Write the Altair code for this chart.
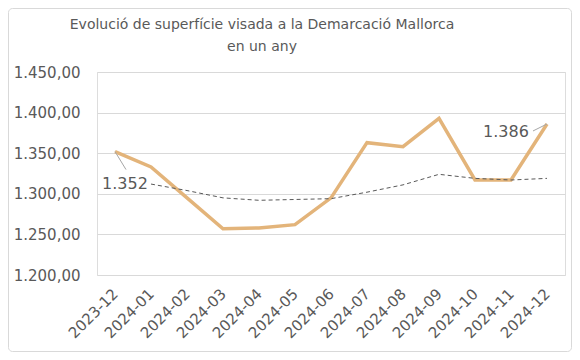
import altair as alt
import pandas as pd

months = ["2023-12", "2024-01", "2024-02", "2024-03", "2024-04", "2024-05", "2024-06",
          "2024-07", "2024-08", "2024-09", "2024-10", "2024-11", "2024-12"]
values = [1352, 1333, 1295, 1257, 1258, 1262, 1295, 1363, 1358, 1393, 1317, 1317, 1386]
trend_months = months[1:]
trend_values = [1312, 1304, 1295, 1292, 1293, 1294, 1302, 1311, 1324, 1319, 1317, 1319]
label_months = ["2023-12", "2024-12"]
label_values = [1352, 1386]
title_lines = ["Evolució de superfície visada a la Demarcació Mallorca", "en un any"]

TEXT = "#595959"
FONT = "DejaVu Sans"

df = pd.DataFrame({"mes": months, "valor": values})
dft = pd.DataFrame({"mes": trend_months, "valor": trend_values})
dfl = pd.DataFrame({"mes": label_months, "valor": label_values})

x = alt.X("mes:O", sort=months, scale=alt.Scale(type="point", padding=0.5, domain=months),
          axis=alt.Axis(title=None, labelAngle=-45, labelAlign="right", labelBaseline="middle",
                        labelPadding=16, ticks=False, domain=False, grid=False,
                        labelFontSize=15, labelColor=TEXT, labelFont=FONT))
y = alt.Y("valor:Q", scale=alt.Scale(domain=[1200, 1450], nice=False, zero=False),
          axis=alt.Axis(title=None, values=[1200, 1250, 1300, 1350, 1400, 1450], format=",.2f",
                        ticks=False, domain=False, gridColor="#d9d9d9", gridWidth=1,
                        labelPadding=17, labelFontSize=15, labelColor=TEXT, labelFont=FONT))

main = alt.Chart(df).mark_line(color="#E3B47A", strokeWidth=3.5, strokeJoin="miter").encode(x=x, y=y)
trend = alt.Chart(dft).mark_line(color="#595959", strokeWidth=1, strokeDash=[4, 3]).encode(
    x=alt.X("mes:O", sort=months), y="valor:Q")

lead1 = alt.Chart(dfl.iloc[[0]]).mark_rule(color="#a6a6a6", strokeWidth=1, x2Offset=11, y2Offset=18).encode(
    x=alt.X("mes:O", sort=months), y="valor:Q", x2="mes:O", y2="valor:Q")
lab1 = alt.Chart(dfl.iloc[[0]]).mark_text(fontSize=16, font=FONT, color=TEXT, dx=10, dy=32).encode(
    x=alt.X("mes:O", sort=months), y="valor:Q", text=alt.Text("valor:Q", format=",.0f"))
lead2 = alt.Chart(dfl.iloc[[1]]).mark_rule(color="#a6a6a6", strokeWidth=1, x2Offset=-14, y2Offset=7).encode(
    x=alt.X("mes:O", sort=months), y="valor:Q", x2="mes:O", y2="valor:Q")
lab2 = alt.Chart(dfl.iloc[[1]]).mark_text(fontSize=16, font=FONT, color=TEXT, dx=-41, dy=8).encode(
    x=alt.X("mes:O", sort=months), y="valor:Q", text=alt.Text("valor:Q", format=",.0f"))

border = alt.Chart(alt.Data(values=[{}])).mark_rect(
    fill=None, stroke="#d9d9d9", strokeWidth=1, cornerRadius=4).encode(
    x=alt.value(-88.5), y=alt.value(-63.5), x2=alt.value(474.5), y2=alt.value(279.5))

title = alt.Chart(alt.Data(values=[{}])).mark_text(
    fontSize=14, font=FONT, color=TEXT, align="center", baseline="middle", lineHeight=22).encode(
    x=alt.value(165), y=alt.value(-47), text=alt.value(title_lines))

chart = alt.layer(border, title, main, trend, lead1, lab1, lead2, lab2).properties(
    width=468, height=203,
    autosize=alt.AutoSizeParams(type="none"),
    padding={"left": 89, "top": 64, "right": 7, "bottom": 77},
).configure_view(stroke=None).configure(
    locale={"number": {"decimal": ",", "thousands": ".", "grouping": [3], "currency": ["", " €"]}}
)

chart.save("out.html", embed_options={"renderer": "svg", "actions": False})
